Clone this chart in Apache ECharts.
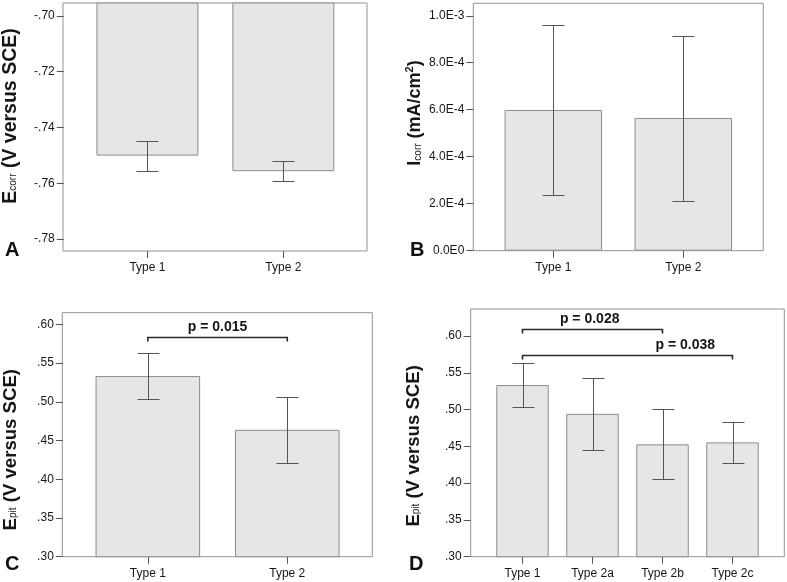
<!DOCTYPE html>
<html><head><meta charset="utf-8">
<script src="https://cdn.jsdelivr.net/npm/echarts@6/dist/echarts.min.js"></script>
<style>html,body{margin:0;padding:0;background:#fff}#c{width:787px;height:582px}</style>
</head><body><div id="c"></div>
<script>
// ---- data ----
const aCats = ['Type 1', 'Type 2'];
const aMean = [-0.7501, -0.7557];
const aLow  = [-0.7555, -0.7592];
const aHigh = [-0.7449, -0.7521];
const aTicks = [-0.78, -0.76, -0.74, -0.72, -0.70];

const bCats = ['Type 1', 'Type 2'];
const bMean = [5.99e-4, 5.65e-4];
const bLow  = [2.38e-4, 2.11e-4];
const bHigh = [9.59e-4, 9.15e-4];
const bTicks = [0, 2e-4, 4e-4, 6e-4, 8e-4, 1e-3];

const cCats = ['Type 1', 'Type 2'];
const cMean = [0.5332, 0.4638];
const cLow  = [0.5039, 0.4214];
const cHigh = [0.5629, 0.5059];
const cTicks = [0.30, 0.35, 0.40, 0.45, 0.50, 0.55, 0.60];
const cBrFrom = [0], cBrTo = [1], cBrY = [0.584], cBrText = ['p = 0.015'];

const dCats = ['Type 1', 'Type 2a', 'Type 2b', 'Type 2c'];
const dMean = [0.5333, 0.4942, 0.4527, 0.4554];
const dLow  = [0.5037, 0.4450, 0.4054, 0.4269];
const dHigh = [0.5632, 0.5428, 0.5005, 0.4837];
const dTicks = cTicks;
const dBrFrom = [0, 0], dBrTo = [2, 3], dBrY = [0.6091, 0.5742], dBrText = ['p = 0.028', 'p = 0.038'];

// ---- styling / layout ----
const FONT = 'Liberation Sans, Arial, sans-serif';
const TXT = '#161616';
const LINE = '#555';
const FRAME = '#939393';

function makeRich(fs) {
  return {
    m:{fontSize:fs, fontWeight:'bold', color:TXT, fontFamily:FONT, lineHeight:fs + 4},
    s:{fontSize:10, color:TXT, fontFamily:FONT, padding:[5,0,0,0]},
    u:{fontSize:11, fontWeight:'bold', color:TXT, fontFamily:FONT, verticalAlign:'top', padding:[0,0,6,0]}
  };
}

const panels = [
  {letter:'A', lx:5, ly:252, frame:{l:63, t:3, w:304, h:248}, pad:15.7, cats:aCats, mean:aMean, low:aLow, high:aHigh, ticks:aTicks, min:-0.7843, max:-0.6954,
   fmt:v=>(v<0?'-':'')+Math.abs(v).toFixed(2).replace(/^0/,''), name:'{m|E}{s|corr}{m| (V versus SCE)}', fs:19.5, gap:41, npad:[0,0,0,22]},
  {letter:'B', lx:410, ly:252, frame:{l:473.3, t:3.3, w:290, h:247.4}, pad:15, cats:bCats, mean:bMean, low:bLow, high:bHigh, ticks:bTicks, min:0, max:1.053e-3,
   fmt:v=>{ if (Math.abs(v) < 1e-12) return '0.0E0'; const p=v.toExponential(1).split('e'); return p[0]+'E'+(+p[1]); }, name:'{m|I}{s|corr}{m| (mA/cm}{u|2}{m|)}', fs:18, gap:47, npad:[0,0,0,28]},
  {letter:'C', lx:5, ly:566, frame:{l:62.3, t:312.7, w:310, h:244}, pad:15.3, cats:cCats, mean:cMean, low:cLow, high:cHigh, ticks:cTicks, min:0.30, max:0.615,
   fmt:v=>v.toFixed(2).replace(/^0/,''), name:'{m|E}{s|pit}{m| (V versus SCE)}', fs:18.6, gap:41, npad:[0,30,0,0],
   br:{from:cBrFrom, to:cBrTo, y:cBrY, text:cBrText, frac:[0.5]}},
  {letter:'D', lx:409, ly:566, frame:{l:470.7, t:309, w:313.6, h:247.7}, pad:16.8, cats:dCats, mean:dMean, low:dLow, high:dHigh, ticks:dTicks, min:0.30, max:0.6367,
   fmt:v=>v.toFixed(2).replace(/^0/,''), name:'{m|E}{s|pit}{m| (V versus SCE)}', fs:18.6, gap:46, npad:[0,26,0,0],
   br:{from:dBrFrom, to:dBrTo, y:dBrY, text:dBrText, frac:[0.48, 0.775]}}
];

const grid = [], xAxis = [], yAxis = [], series = [], graphic = [];

panels.forEach((p, i) => {
  const f = p.frame;
  // frame grid (plot box)
  grid.push({left:f.l, top:f.t, width:f.w, height:f.h, show:true, borderColor:FRAME, borderWidth:1, backgroundColor:'transparent'});
  xAxis.push({gridIndex:2*i, type:'value', show:false});
  yAxis.push({gridIndex:2*i, type:'value', show:false});
  // inner data grid
  grid.push({left:f.l + p.pad, top:f.t, width:f.w - 2*p.pad, height:f.h, show:false});
  xAxis.push({
    gridIndex:2*i+1, type:'category', data:p.cats, boundaryGap:true,
    axisLine:{show:false},
    axisTick:{show:true, alignWithLabel:true, length:7, lineStyle:{color:LINE}},
    axisLabel:{margin:11, fontSize:12, color:TXT, fontFamily:FONT}
  });
  yAxis.push({
    gridIndex:2*i+1, type:'value', min:p.min, max:p.max, offset:p.pad,
    axisLine:{show:false},
    axisTick:{show:true, length:7, lineStyle:{color:LINE}, customValues:p.ticks},
    axisLabel:{margin:9, fontSize:12, color:TXT, fontFamily:FONT, formatter:p.fmt, customValues:p.ticks},
    splitLine:{show:false},
    name:p.name, nameLocation:'middle', nameGap:p.gap,
    nameTextStyle:{rich:makeRich(p.fs), padding:p.npad}
  });
  // bars
  series.push({
    type:'bar', xAxisIndex:2*i+1, yAxisIndex:2*i+1, data:p.mean, barWidth:'75%', clip:true,
    itemStyle:{color:'#e6e6e6', borderColor:'#8c8c8c', borderWidth:1}, silent:true, z:2
  });
  // error bars
  series.push({
    type:'custom', xAxisIndex:2*i+1, yAxisIndex:2*i+1, z:3, silent:true,
    encode:{x:0, y:[1,2]},
    data:p.cats.map((c, k) => [k, p.low[k], p.high[k]]),
    renderItem:(params, api) => {
      const k = api.value(0);
      const lo = api.coord([k, api.value(1)]);
      const hi = api.coord([k, api.value(2)]);
      const x = Math.round(lo[0]) + 0.5, y1 = Math.round(hi[1]) + 0.5, y2 = Math.round(lo[1]) + 0.5;
      const st = {stroke:LINE, lineWidth:1};
      return {type:'group', children:[
        {type:'line', shape:{x1:x, y1:y1, x2:x, y2:y2}, style:st},
        {type:'line', shape:{x1:x-11, y1:y1, x2:x+11, y2:y1}, style:st},
        {type:'line', shape:{x1:x-11, y1:y2, x2:x+11, y2:y2}, style:st}
      ]};
    }
  });
  // significance brackets
  if (p.br) {
    const b = p.br;
    series.push({
      type:'custom', xAxisIndex:2*i+1, yAxisIndex:2*i+1, z:4, silent:true,
      data:b.from.map((fr, k) => [fr, b.to[k], b.y[k]]),
      renderItem:(params, api) => {
        const k = params.dataIndex;
        const a = api.coord([api.value(0), api.value(2)]);
        const c = api.coord([api.value(1), api.value(2)]);
        const y = Math.round(a[1]) + 0.5;
        const st = {stroke:'#2a2a2a', lineWidth:1.6, fill:null};
        const tx = a[0] + (c[0] - a[0]) * b.frac[k];
        return {type:'group', children:[
          {type:'polyline', shape:{points:[[a[0], y+4], [a[0], y], [c[0], y], [c[0], y+4]]}, style:st},
          {type:'text', x:tx, y:y-3, style:{text:b.text[k], fill:TXT, font:'bold 14px ' + FONT, align:'center', verticalAlign:'bottom'}}
        ]};
      }
    });
  }
  graphic.push({type:'text', left:p.lx, top:p.ly - 12, style:{text:p.letter, fill:'#111', font:'bold 20px ' + FONT}});
});

const chart = echarts.init(document.getElementById('c'), null, {renderer:'canvas'});
chart.setOption({animation:false, backgroundColor:'#fff', grid, xAxis, yAxis, series, graphic});
</script>
</body></html>
